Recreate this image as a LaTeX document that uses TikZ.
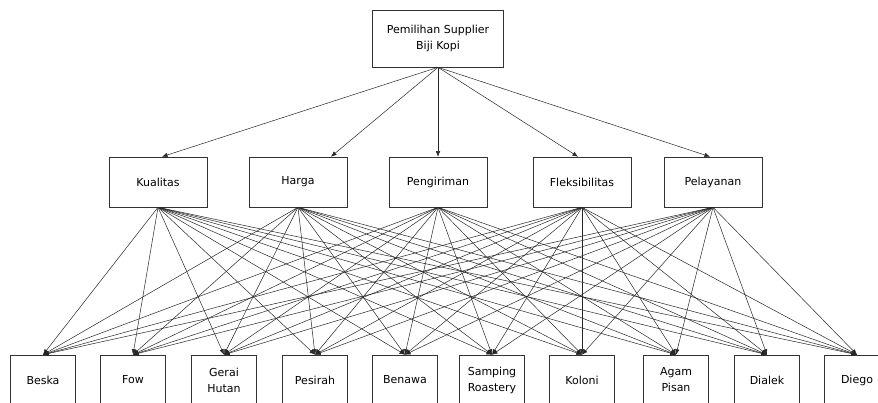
\documentclass[tikz,border=0pt]{standalone}
\usepackage{fontspec}
\setmainfont{DejaVu Sans}
\usetikzlibrary{arrows.meta}

\tikzset{
  kotak/.style={draw=black!80, line width=0.6pt, fill=white, align=center,
    inner sep=1pt, font=\fontsize{11}{16}\selectfont},
  goal/.style={kotak, minimum width=131pt, minimum height=57pt},
  kriteria/.style={kotak, minimum width=98pt, minimum height=50pt},
  alt/.style={kotak, minimum width=65pt, minimum height=50pt},
  panah/.style={draw=black!85, line width=0.5pt, -{Latex[length=5.5pt,width=4.5pt]}}
}

\begin{document}
\begin{tikzpicture}[x=1pt,y=-1pt]
    \useasboundingbox (0,0) rectangle (878,403);
    \clip (0,0) rectangle (878,403);
    \node[goal] (goal) at (438,38.5) {Pemilihan Supplier\\Biji Kopi};
    % kriteria
    \node[kriteria] (kualitas) at (158,182) {Kualitas};
    \node[kriteria] (harga) at (298,182) {Harga};
    \node[kriteria] (pengiriman) at (438,182) {Pengiriman};
    \node[kriteria] (fleksibilitas) at (582,182) {Fleksibilitas};
    \node[kriteria] (pelayanan) at (713,182) {Pelayanan};
    % alternatif
    \node[alt] (beska) at (43,380) {Beska};
    \node[alt] (fow) at (133,380) {Fow};
    \node[alt] (gerai) at (224,380) {Gerai\\Hutan};
    \node[alt] (pesirah) at (315,380) {Pesirah};
    \node[alt] (benawa) at (405,380) {Benawa};
    \node[alt] (samping) at (492,380) {Samping\\Roastery};
    \node[alt] (koloni) at (582,380) {Koloni};
    \node[alt] (agam) at (676,380) {Agam\\Pisan};
    \node[alt] (dialek) at (767,380) {Dialek};
    \node[alt] (diego) at (857,380) {Diego};
    % goal -> kriteria
    \foreach \k/\dx in {kualitas/4,harga/33,pengiriman/0,fleksibilitas/-4,pelayanan/-3}
      \draw[panah] (goal.south) -- ([xshift=\dx pt]\k.north);
    % kriteria -> alternatif
    \foreach \k in {kualitas,harga,pengiriman,fleksibilitas,pelayanan}
      \foreach \a in {beska,fow,gerai,pesirah,benawa,samping,koloni,agam,dialek,diego}
        \draw[panah] (\k.south) -- (\a.north);
  \end{tikzpicture}
\end{document}
